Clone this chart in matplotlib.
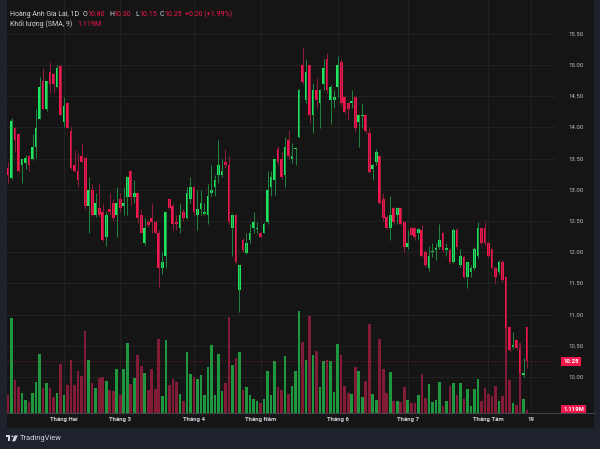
import matplotlib
matplotlib.use('Agg')
import matplotlib.pyplot as plt
from matplotlib.patches import Rectangle, Circle, Polygon
from matplotlib.lines import Line2D
import matplotlib.transforms as mtransforms
import numpy as np

plt.rcParams['font.family'] = ['Roboto', 'DejaVu Sans']

# ---------------- data (daily candles, index 0 .. 148) ----------------
opens = [13.35, 13.19, 13.99, 13.89, 13.40, 13.43, 13.54, 13.49, 13.69, 14.13,
         14.74, 14.29, 14.89, 14.86, 14.65, 14.98, 14.09, 14.39, 13.94, 13.40,
         13.30, 13.54, 13.51, 12.74, 13.00, 12.60, 12.71, 12.64, 12.24, 12.69,
         12.79, 12.60, 12.85, 12.74, 12.88, 13.30, 12.88, 12.95, 12.60, 12.15,
         12.48, 12.55, 12.48, 12.31, 11.75, 11.94, 12.85, 12.74, 12.48, 12.39,
         12.64, 12.55, 12.85, 13.04, 12.60, 12.69, 12.62, 12.60, 12.95, 13.04,
         13.24, 13.24, 13.45, 13.40, 12.39, 12.60, 11.39, 12.20, 11.99, 12.20,
         12.39, 12.37, 12.31, 12.31, 12.48, 13.04, 13.16, 13.66, 13.49, 13.24,
         13.80, 13.49, 13.66, 13.85,
         15.00, 14.44, 15.00, 14.20, 14.60, 14.39, 14.70, 15.10, 14.44, 14.44,
         14.65, 15.05, 14.49, 14.39, 14.39, 14.49, 14.09, 14.18, 14.20, 13.91,
         13.34, 13.45, 13.54, 12.85, 12.56, 12.39, 12.71, 12.60, 12.71, 12.48,
         12.09, 12.39, 12.39, 12.31, 12.36, 12.00, 11.75, 12.00, 12.04, 12.09,
         12.31, 12.04, 12.04, 11.84, 12.36, 11.79, 11.92, 11.60, 11.69, 11.75,
         11.94, 12.39, 12.39, 12.15, 12.05, 11.75, 11.69, 11.85, 11.60, 10.80,
         10.48, 10.59, 10.45, 10.04, 10.80]
highs = [13.45, 14.15, 14.00, 13.90, 13.50, 13.55, 13.55, 13.89, 14.29, 14.81,
         14.95, 14.74, 15.05, 14.88, 15.00, 15.00, 14.49, 14.40, 14.00, 13.64,
         13.59, 13.75, 13.53, 13.20, 13.09, 12.95, 13.09, 12.79, 12.65, 12.95,
         12.85, 13.04, 12.95, 13.04, 13.22, 13.32, 13.15, 12.97, 12.70, 12.55,
         12.52, 12.79, 12.50, 12.35, 12.00, 12.66, 12.86, 12.79, 12.60, 12.79,
         12.69, 13.04, 13.20, 13.06, 13.00, 13.00, 12.79, 13.09, 13.40, 13.24,
         13.80, 13.49, 13.66, 13.54, 12.62, 12.62, 11.80, 12.22, 12.31, 12.45,
         12.64, 12.48, 12.33, 12.48, 13.30, 13.30, 13.50, 13.70, 13.60, 13.85,
         13.96, 13.75, 13.69, 14.62,
         15.29, 15.10, 15.00, 14.71, 14.79, 14.62, 15.10, 15.19, 14.68, 14.60,
         15.14, 15.10, 14.50, 14.40, 14.60, 14.50, 14.22, 14.39, 14.22, 13.99,
         13.42, 13.66, 13.56, 12.95, 12.60, 12.90, 12.72, 12.72, 12.72, 12.50,
         12.36, 12.40, 12.40, 12.39, 12.45, 12.04, 12.10, 12.15, 12.15, 12.45,
         12.33, 12.15, 12.06, 12.38, 12.39, 12.05, 11.95, 11.85, 11.79, 12.08,
         12.48, 12.40, 12.48, 12.17, 12.07, 11.77, 11.87, 11.87, 11.60, 10.80,
         10.72, 10.60, 10.46, 10.30, 10.80]
lows = [13.11, 13.18, 13.60, 13.28, 13.11, 13.33, 13.30, 13.48, 13.51, 14.13,
        14.29, 14.27, 14.55, 14.55, 14.63, 14.20, 14.00, 13.99, 13.33, 13.28,
        13.04, 13.44, 12.70, 12.31, 12.58, 12.57, 12.57, 12.18, 12.10, 12.60,
        12.50, 12.24, 12.65, 12.60, 12.60, 12.75, 12.79, 12.47, 12.30, 12.12,
        12.40, 12.31, 12.30, 11.44, 11.65, 11.75, 12.70, 12.36, 12.36, 12.31,
        12.50, 12.53, 12.79, 12.60, 12.36, 12.60, 12.60, 12.45, 12.90, 12.90,
        13.11, 13.20, 13.35, 12.45, 11.94, 11.82, 11.04, 12.00, 11.97, 12.15,
        12.31, 12.31, 12.22, 12.30, 12.45, 12.90, 12.92, 13.40, 13.18, 13.04,
        13.50, 13.43, 13.40, 13.83,
        14.70, 14.39, 14.07, 13.91, 14.31, 13.99, 14.60, 14.55, 14.05, 14.31,
        14.49, 14.35, 14.23, 14.12, 14.31, 13.93, 13.69, 13.99, 13.90, 13.27,
        13.16, 13.40, 12.77, 12.50, 12.37, 12.20, 12.45, 12.45, 12.43, 12.00,
        12.05, 12.27, 12.20, 12.20, 11.92, 11.77, 11.70, 11.92, 11.88, 12.05,
        12.00, 11.94, 11.82, 11.82, 12.05, 11.77, 11.58, 11.43, 11.60, 11.72,
        11.90, 12.12, 12.12, 11.92, 11.73, 11.50, 11.65, 11.53, 10.75, 10.40,
        10.45, 10.44, 10.05, 10.00, 10.15]
closes = [13.24, 14.10, 13.80, 13.30, 13.49, 13.51, 13.40, 13.69, 13.99, 14.65,
          14.29, 14.74, 14.70, 14.70, 14.95, 14.20, 14.34, 13.99, 13.35, 13.30,
          13.16, 13.45, 12.74, 13.00, 12.60, 12.79, 12.60, 12.20, 12.60, 12.64,
          12.55, 12.79, 12.71, 12.79, 13.20, 12.88, 12.95, 12.55, 12.31, 12.39,
          12.43, 12.48, 12.31, 11.75, 11.84, 12.64, 12.71, 12.45, 12.45, 12.60,
          12.55, 12.95, 13.04, 12.64, 12.69, 12.79, 12.65, 12.90, 13.00, 13.16,
          13.40, 13.30, 13.40, 12.48, 12.60, 11.84, 11.79, 12.04, 12.15, 12.31,
          12.48, 12.39, 12.24, 12.45, 13.00, 13.20, 13.49, 13.45, 13.20, 13.69,
          13.54, 13.54, 13.67, 14.60,
          14.73, 14.89, 14.20, 14.60, 14.44, 14.60, 14.95, 14.60, 14.65, 14.49,
          15.00, 14.39, 14.25, 14.29, 14.42, 13.99, 14.20, 14.20, 13.94, 13.29,
          13.40, 13.61, 12.79, 12.55, 12.39, 12.60, 12.48, 12.71, 12.45, 12.09,
          12.15, 12.28, 12.24, 12.37, 11.94, 11.79, 11.94, 12.02, 12.06, 12.20,
          12.04, 12.06, 11.84, 12.36, 12.09, 11.94, 11.60, 11.84, 11.75, 12.05,
          12.39, 12.15, 12.15, 11.94, 11.75, 11.60, 11.85, 11.55, 10.78, 10.43,
          10.51, 10.46, 10.06, 10.07, 10.25]
volumes_m = [6.7, 35.4, 12.3, 9.7, 7.5, 4.8, 4.1, 7.5, 11.6, 22.0,
             9.3, 11.2, 9.3, 6.0, 7.5, 18.3, 6.7, 10.4, 19.8, 10.4,
             15.7, 13.8, 30.6, 19.8, 11.2, 9.3, 13.1, 13.4, 11.9, 8.6,
             8.2, 16.4, 6.7, 16.4, 26.1, 10.8, 13.1, 21.6, 17.5, 14.9,
             8.6, 16.4, 9.0, 27.6, 6.3, 27.2, 10.4, 12.7, 11.6, 7.1,
             4.5, 22.8, 14.5, 13.4, 12.7, 14.2, 6.7, 17.2, 25.4, 6.7,
             22.0, 8.2, 11.2, 35.8, 17.9, 20.5, 22.8, 8.6, 9.7, 6.7,
             5.2, 4.5, 3.7, 5.2, 15.7, 6.7, 19.4, 9.7, 8.6, 21.3,
             7.1, 10.1, 15.7, 38.0,
             26.5, 19.8, 36.2, 21.6, 23.1, 9.7, 19.4, 19.8, 19.4, 7.8,
             25.7, 21.6, 10.1, 7.5, 7.1, 17.2, 15.7, 6.0, 11.9, 33.2,
             7.1, 4.8, 27.6, 16.4, 7.5, 15.3, 4.5, 4.5, 4.1, 9.7,
             4.8, 3.7, 3.7, 6.7, 14.5, 5.6, 10.8, 4.1, 4.8, 11.6,
             2.6, 4.5, 10.1, 11.2, 6.7, 11.2, 5.2, 9.0, 2.6, 9.0,
             12.7, 4.5, 9.3, 7.1, 6.3, 10.1, 4.5, 6.3, 37.3, 12.3,
             3.7, 3.0, 26.1, 5.2, 1.119]

month_pos = [16, 32, 53, 72, 94, 114, 137, 149]
month_labels = ['Tháng Hai', 'Tháng 3', 'Tháng 4', 'Tháng Năm', 'Tháng 6',
                'Tháng 7', 'Tháng Tám', '19']
price_ticks = [10.0, 10.5, 11.0, 11.5, 12.0, 12.5, 13.0, 13.5, 14.0, 14.5, 15.0, 15.5]
last_price = 10.25
last_volume_label = '1.119M'
title_text = 'Hoàng Anh Gia Lai, 1D'
ohlc_labels = ['O', 'H', 'L', 'C']
ohlc_values = ['10.80', '10.30', '10.15', '10.25']
change_text = '+0.20 (+1.99%)'
volume_title = 'Khối lượng (SMA, 9)'

# ---------------- style ----------------
W, H = 600, 449
BG = '#151515'
FRAME = '#1e222d'
UP = '#1ee35e'
DOWN = '#f0174c'
UP_WICK = '#1f8f40'
DOWN_WICK = '#9c1b3d'
VOL_UP = '#1f973f'
VOL_DOWN = '#821b35'
GRID = '#242424'
TXT = '#d1d4dc'
AX_TXT = '#bcbfc7'

fig = plt.figure(figsize=(W / 100, H / 100), dpi=100)
fig.patch.set_facecolor(FRAME)
fig.add_artist(Rectangle((6.5 / W, 1 - 428 / H), (594 - 6.5) / W, 428 / H,
                         transform=fig.transFigure, fc=BG, ec='none', zorder=-5))

rect = [6.5 / W, 1 - 413 / H, (555 - 6.5) / W, 413 / H]
ax_p = fig.add_axes(rect, zorder=1)
ax_v = fig.add_axes(rect, sharex=ax_p, zorder=2)
ax_c = fig.add_axes(rect, sharex=ax_p, sharey=ax_p, zorder=3)
for a in (ax_p, ax_v, ax_c):
    a.patch.set_visible(False)
    for s in a.spines.values():
        s.set_visible(False)

n = len(closes)
x = np.arange(n)
ax_p.set_xlim(-0.43, 155.97)
ax_p.set_ylim(9.423, 16.042)

# price axis
ax_p.yaxis.tick_right()
ax_p.set_yticks(price_ticks)
ax_p.set_yticklabels(['%.2f' % t for t in price_ticks])
ax_p.tick_params(axis='y', length=0, pad=9.4, labelsize=4.3, labelcolor=AX_TXT)
ax_p.set_xticks(month_pos)
ax_p.set_xticklabels(month_labels, fontweight='bold')
ax_p.tick_params(axis='x', length=0, pad=3.0, labelsize=4.3, labelcolor=TXT)
ax_p.grid(True, color=GRID, lw=0.6)

# volume
ax_v.set_ylim(0, 154.0)
ax_v.axis('off')
up = np.array(closes) >= np.array(opens)
vcols = [VOL_UP if u else VOL_DOWN for u in up]
ax_v.bar(x, volumes_m, width=0.75, color=vcols, linewidth=0)

# candles
ax_c.axis('off')
o = np.array(opens); c = np.array(closes)
bottoms = np.minimum(o, c)
heights = np.maximum(np.abs(c - o), 0.018)
wcols = [UP_WICK if u else DOWN_WICK for u in up]
bcols = [UP if u else DOWN for u in up]
ax_c.vlines(x, lows, highs, colors=wcols, linewidth=0.65)
ax_c.bar(x, heights, bottom=bottoms, width=0.77, color=bcols, linewidth=0)
ax_c.axhline(last_price, color=DOWN, lw=0.6, ls=(0, (1, 2)), alpha=0.6)

# right-scale labels
tr_p = mtransforms.blended_transform_factory(ax_p.transAxes, ax_p.transData)
ax_c.text((563.5 - 6.5) / (555 - 6.5), last_price, '%.2f' % last_price,
          transform=tr_p, ha='left', va='center', fontsize=4.3, color='white',
          fontweight='bold', clip_on=False,
          bbox=dict(boxstyle='square,pad=0.35', fc=DOWN, ec='none'))
tr_v = mtransforms.blended_transform_factory(ax_v.transAxes, ax_v.transData)
ax_v.text((563.5 - 6.5) / (555 - 6.5), volumes_m[-1] + 0.3, last_volume_label,
          transform=tr_v, ha='left', va='center', fontsize=4.3, color='white',
          fontweight='bold', clip_on=False,
          bbox=dict(boxstyle='square,pad=0.35', fc=DOWN, ec='none'))

# time-axis separator
fig.add_artist(Line2D([6.5 / W, 594 / W], [1 - 413.3 / H, 1 - 413.3 / H],
                      transform=fig.transFigure, color='#40434c', lw=0.8, zorder=5))

# legend text
def ptext(px, py, s, color, size=5.0, **kw):
    fig.text(px / W, 1 - py / H, s, color=color, fontsize=size, ha='left',
             va='center', **kw)

ptext(10, 14.5, title_text, TXT)
lx = [83, 109, 135, 160]
for lab, val, xx in zip(ohlc_labels, ohlc_values, lx):
    ptext(xx, 14.5, lab, TXT)
    ptext(xx + 4.4, 14.5, val, DOWN)
ptext(185, 14.5, change_text, DOWN)
ptext(10, 24.2, volume_title, TXT)
ptext(77, 24.2, last_volume_label, DOWN)

# TradingView logo
def P(px, py):
    return (px / W, 1 - py / H)
logo_col = TXT
fig.add_artist(Rectangle(P(6, 437.2), 4.4 / W, 1.8 / H, transform=fig.transFigure,
                         fc=logo_col, ec='none'))
fig.add_artist(Rectangle(P(8.2, 441.3), 2.2 / W, 5.9 / H, transform=fig.transFigure,
                         fc=logo_col, ec='none'))
fig.add_artist(Circle(P(12.4, 436.4), 1.05 / W, transform=fig.transFigure,
                      fc=logo_col, ec='none'))
fig.add_artist(Polygon([P(14.6, 435.4), P(17.8, 435.4), P(15.2, 441.3), P(12.0, 441.3)],
                       closed=True, transform=fig.transFigure, fc=logo_col, ec='none'))
ptext(19.5, 438.3, 'TradingView', TXT, size=5.4)

fig.savefig('out.png', dpi=100, facecolor=fig.get_facecolor())
